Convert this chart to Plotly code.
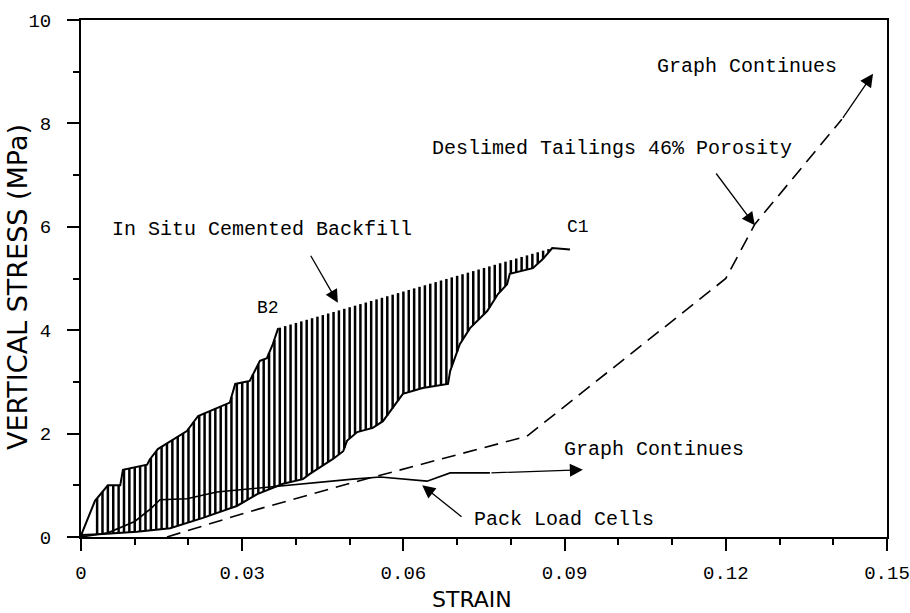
import numpy as np
import plotly.graph_objects as go

# ---- data -------------------------------------------------------------
# Test B2: upper-left envelope of the in situ cemented backfill band
b2_strain = [0.0, 0.0002, 0.0026, 0.0050, 0.0073, 0.0078, 0.0123, 0.0128, 0.0143,
             0.0197, 0.0218, 0.0277, 0.0287, 0.0314, 0.0333, 0.0346, 0.0357,
             0.0365, 0.0367]
b2_stress = [0.0, 0.08, 0.70, 1.00, 1.00, 1.30, 1.40, 1.50, 1.70,
             2.05, 2.34, 2.60, 2.96, 3.02, 3.41, 3.46, 3.73,
             3.95, 4.04]

# Test C1: lower-right envelope of the band
c1_strain = [0.0, 0.0002, 0.0041, 0.0104, 0.0166, 0.0227, 0.0290, 0.0328, 0.0376,
             0.0413, 0.0426, 0.0469, 0.0488, 0.0495, 0.0514, 0.0543, 0.0562,
             0.0581, 0.0599, 0.0636, 0.0683, 0.0687, 0.0705, 0.0724, 0.0756,
             0.0776, 0.0793, 0.0798, 0.0841, 0.0860, 0.0877, 0.0910]
c1_stress = [0.0, 0.04, 0.06, 0.10, 0.17, 0.37, 0.60, 0.83, 1.03,
             1.12, 1.22, 1.51, 1.66, 1.86, 2.03, 2.11, 2.24,
             2.50, 2.77, 2.88, 2.96, 3.21, 3.73, 4.04, 4.37,
             4.70, 4.89, 5.09, 5.20, 5.38, 5.59, 5.56]

# Pack load cells
pack_strain = [0.0, 0.005, 0.010, 0.013, 0.0147, 0.0197, 0.0253, 0.0352, 0.0413,
               0.0506, 0.0557, 0.0644, 0.0687, 0.0761]
pack_stress = [0.0, 0.08, 0.30, 0.55, 0.72, 0.74, 0.87, 0.97, 1.03,
               1.12, 1.16, 1.08, 1.24, 1.24]
pack_end = (0.0934, 1.30)

# Deslimed tailings, 46% porosity
tail_strain = [0.0160, 0.0310, 0.0501, 0.0830, 0.1200, 0.1254, 0.1416]
tail_stress = [0.00, 0.48, 1.04, 1.95, 5.00, 6.05, 8.08]
tail_end = (0.1474, 8.96)

x_ticks = [0, 0.03, 0.06, 0.09, 0.12, 0.15]
x_tick_text = ["0", "0.03", "0.06", "0.09", "0.12", "0.15"]
y_ticks = [0, 2, 4, 6, 8, 10]
y_tick_text = ["0", "2", "4", "6", "8", "10"]

INK = "black"
MONO = "Liberation Mono"
SANS = "DejaVu Sans"
HATCH_STEP = 0.001          # strain spacing of the hatch strokes

fig = go.Figure()

# ---- vertical hatching between the B2 and C1 envelopes ---------------
# top edge: B2 curve up to its peak, then a straight chord to C1's peak
hx = np.arange(0.0030, c1_strain[-2], HATCH_STEP)
peak_b2 = (b2_strain[-1], b2_stress[-1])
peak_c1 = (c1_strain[-2], c1_stress[-2])
top = np.where(hx <= peak_b2[0],
               np.interp(hx, b2_strain, b2_stress),
               np.interp(hx, [peak_b2[0], peak_c1[0]], [peak_b2[1], peak_c1[1]]))
bottom = np.interp(hx, c1_strain, c1_stress)
hatch_x, hatch_y = [], []
for x, lo, hi in zip(hx, bottom, top):
    if hi - lo > 0.05:
        hatch_x += [x, x, None]
        hatch_y += [lo, hi, None]
fig.add_trace(go.Scatter(x=hatch_x, y=hatch_y, mode="lines",
                         line=dict(color=INK, width=2.5),
                         hoverinfo="skip", showlegend=False))

# ---- curves ----------------------------------------------------------
fig.add_trace(go.Scatter(x=b2_strain, y=b2_stress, mode="lines",
                         line=dict(color=INK, width=2), showlegend=False))
fig.add_trace(go.Scatter(x=c1_strain, y=c1_stress, mode="lines",
                         line=dict(color=INK, width=2), showlegend=False))
fig.add_trace(go.Scatter(x=pack_strain, y=pack_stress, mode="lines",
                         line=dict(color=INK, width=1.6), showlegend=False))
fig.add_trace(go.Scatter(x=tail_strain, y=tail_stress, mode="lines",
                         line=dict(color=INK, width=1.6, dash="14px,8px"),
                         showlegend=False))


def arrow(tail, tip):
    fig.add_annotation(x=tip[0], y=tip[1], ax=tail[0], ay=tail[1],
                       xref="x", yref="y", axref="x", ayref="y",
                       text="", showarrow=True, arrowhead=2, arrowsize=2,
                       arrowwidth=1.3, arrowcolor=INK)


def label(x, y, text, anchor="left", size=20):
    fig.add_annotation(x=x, y=y, xref="x", yref="y", text=text, showarrow=False,
                       xanchor=anchor, yanchor="middle",
                       font=dict(family=MONO, size=size, color=INK))


# continuation arrows at the end of the pack and tailings curves
arrow((pack_strain[-1], pack_stress[-1]), pack_end)
arrow((tail_strain[-1], tail_stress[-1]), tail_end)

# pointer arrows
arrow((0.0426, 5.47), (0.0478, 4.53))
arrow((0.1180, 7.06), (0.1254, 6.03))
arrow((0.0711, 0.37), (0.0635, 1.00))

label(0.0054, 5.94, "In Situ Cemented Backfill")
label(0.0348, 4.43, "B2", anchor="center", size=18)
label(0.0925, 5.99, "C1", anchor="center", size=18)
label(0.1068, 9.11, "Graph Continues")
label(0.0650, 7.52, "Deslimed Tailings 46% Porosity")
label(0.0895, 1.70, "Graph Continues")
label(0.0727, 0.33, "Pack Load Cells")

axis_common = dict(showline=True, linecolor=INK, linewidth=2, mirror=True,
                   ticks="outside", tickcolor=INK, tickwidth=1.5, ticklen=12,
                   showgrid=False, zeroline=False, automargin=False,
                   ticklabeloverflow="allow",
                   tickfont=dict(family=MONO, size=19, color=INK))

fig.update_xaxes(range=[0, 0.15], tickvals=x_ticks, ticktext=x_tick_text,
                 minor=dict(dtick=0.01, ticks="outside", ticklen=6, tickcolor=INK),
                 ticklabelstandoff=5, **axis_common)
fig.update_yaxes(range=[0, 10], tickvals=y_ticks, ticktext=y_tick_text,
                 minor=dict(dtick=1, ticks="outside", ticklen=6, tickcolor=INK),
                 ticklabelstandoff=12, **axis_common)

fig.update_layout(
    width=910, height=613,
    margin=dict(l=81, r=23, t=20, b=76),
    paper_bgcolor="white", plot_bgcolor="white",
    showlegend=False,
)

# axis titles placed relative to the plotting area (806 x 517 px)
fig.add_annotation(xref="paper", yref="paper",
                   x=(472 - 81) / 806, y=-(599 - 537) / 517,
                   text="STRAIN", showarrow=False,
                   xanchor="center", yanchor="middle",
                   font=dict(family=SANS, size=22, color=INK))
fig.add_annotation(xref="paper", yref="paper", x=-(81 - 17) / 806,
                   y=(537 - 287) / 517, text="VERTICAL STRESS (MPa)",
                   textangle=-90, showarrow=False, xanchor="center", yanchor="middle",
                   font=dict(family=SANS, size=27, color=INK))

fig.write_html("out.html")
